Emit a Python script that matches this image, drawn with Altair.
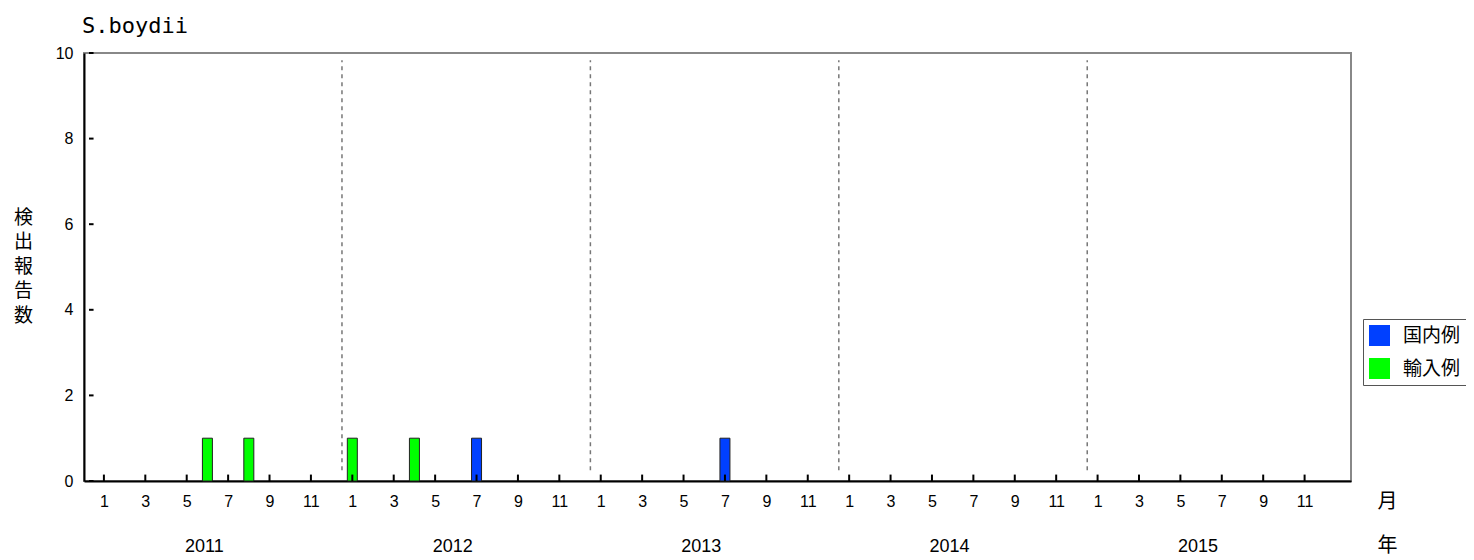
import altair as alt
import pandas as pd

# ---- data ----
years = [2011, 2012, 2013, 2014, 2015]
series_names = ["国内例", "輸入例"]
series_colors = ["#0040FF", "#00FF00"]
# bars: (year, month, series, count)
bar_years = [2011, 2011, 2012, 2012, 2012, 2013]
bar_months = [6, 8, 1, 4, 7, 7]
bar_series = ["輸入例", "輸入例", "輸入例", "輸入例", "国内例", "国内例"]
bar_counts = [1, 1, 1, 1, 1, 1]
y_ticks = [0, 2, 4, 6, 8, 10]
month_labels = [1, 3, 5, 7, 9, 11]

FONT = "Liberation Sans"
JFONT = "Noto Sans CJK JP"
XDOM = [-0.72, 60.0]
YDOM = [0, 10]

bars = pd.DataFrame({
    "idx": [(y - 2011) * 12 + (m - 1) for y, m in zip(bar_years, bar_months)],
    "series": bar_series,
    "count": bar_counts,
})

xs = alt.Scale(domain=XDOM, nice=False, zero=False)
ys = alt.Scale(domain=YDOM, nice=False)

tick_idx = [(y - 2011) * 12 + (m - 1) for y in years for m in month_labels]

XAX = alt.Axis(values=tick_idx, labelExpr="(datum.value % 12) + 1",
               ticks=False, grid=False, title=None, labelFlush=False)
YAX = alt.Axis(values=y_ticks, ticks=False, grid=False,
               title=["検", "出", "報", "告", "数"])

def X(field):
    return alt.X(field, type="quantitative", scale=xs, axis=XAX)

def Y(field):
    return alt.Y(field, type="quantitative", scale=ys, axis=YAX)

bar_layer = alt.Chart(bars).mark_bar(size=10, stroke="#222222", strokeWidth=1).encode(
    x=X("idx"),
    y=Y("count"),
    color=alt.Color("series:N",
                    scale=alt.Scale(domain=series_names, range=series_colors),
                    legend=alt.Legend(title=None, orient="none", legendX=1279,
                                      legendY=266, symbolType="square",
                                      symbolSize=441, symbolStrokeWidth=0,
                                      labelFont=JFONT,
                                      labelFontSize=19, labelColor="black",
                                      strokeColor="#555555", padding=6,
                                      rowPadding=12, labelOffset=13,
                                      fillColor="white")),
)

# year divider lines
div_df = pd.DataFrame({"x": [11.5, 23.5, 35.5, 47.5], "y1": [0.25] * 4, "y2": [9.83] * 4})
dividers = alt.Chart(div_df).mark_rule(color="#777777", strokeWidth=1.5,
                                       strokeDash=[4, 4]).encode(
    x=X("x"), y=Y("y1"), y2="y2:Q")

# inward x ticks
xt_df = pd.DataFrame({"x": tick_idx, "y1": [0] * len(tick_idx), "y2": [0.15] * len(tick_idx)})
xticks = alt.Chart(xt_df).mark_rule(color="black", strokeWidth=2).encode(
    x=X("x"), y=Y("y1"), y2="y2:Q")

# inward y ticks
yt_df = pd.DataFrame({"y": y_ticks, "x1": [XDOM[0]] * len(y_ticks),
                      "x2": [XDOM[0] + 0.22] * len(y_ticks)})
yticks = alt.Chart(yt_df).mark_rule(color="black", strokeWidth=2).encode(
    y=Y("y"), x=X("x1"), x2="x2:Q")

# year labels
yr_df = pd.DataFrame({"x": [(y - 2011) * 12 + 4.85 for y in years],
                      "y": [-1.55] * len(years), "t": [str(y) for y in years]})
year_text = alt.Chart(yr_df).mark_text(font=FONT, fontSize=18, color="black",
                                       baseline="middle", clip=False).encode(
    x=X("x"), y=Y("y"), text="t:N")

# unit labels
unit_df = pd.DataFrame({"x": [62.0, 62.0], "y": [-0.49, -1.52], "t": ["月", "年"]})
unit_text = alt.Chart(unit_df).mark_text(font=JFONT, fontSize=20,
                                         color="black", baseline="middle",
                                         clip=False).encode(
    x=X("x"), y=Y("y"), text="t:N")

chart = alt.layer(bar_layer, dividers, xticks, yticks, year_text, unit_text).properties(
    width=1267, height=428,
    autosize=alt.AutoSizeParams(type="none"),
    padding={"left": 76, "top": 45, "right": 115, "bottom": 80},
    background="white",
    title=alt.Title("S.boydii", anchor="start", frame="group",
                    font="DejaVu Sans Mono", fontSize=22, fontWeight="normal",
                    color="black", offset=7, dx=-2),
).configure_view(
    stroke="#888888", strokeWidth=2
).configure_axis(
    domainColor="black", domainWidth=2, labelFont=FONT, labelFontSize=16,
    labelColor="black"
).configure_axisX(
    labelPadding=12
).configure_axisY(
    labelPadding=11, titleAngle=0, titleFont=JFONT, titleFontSize=19,
    titleFontWeight="normal", titleLineHeight=24.5, titleX=-61, titleY=164,
    titleBaseline="middle", titleAlign="center", titleColor="black"
)

chart.save("out.html", embed_options={"renderer": "svg", "actions": False})
